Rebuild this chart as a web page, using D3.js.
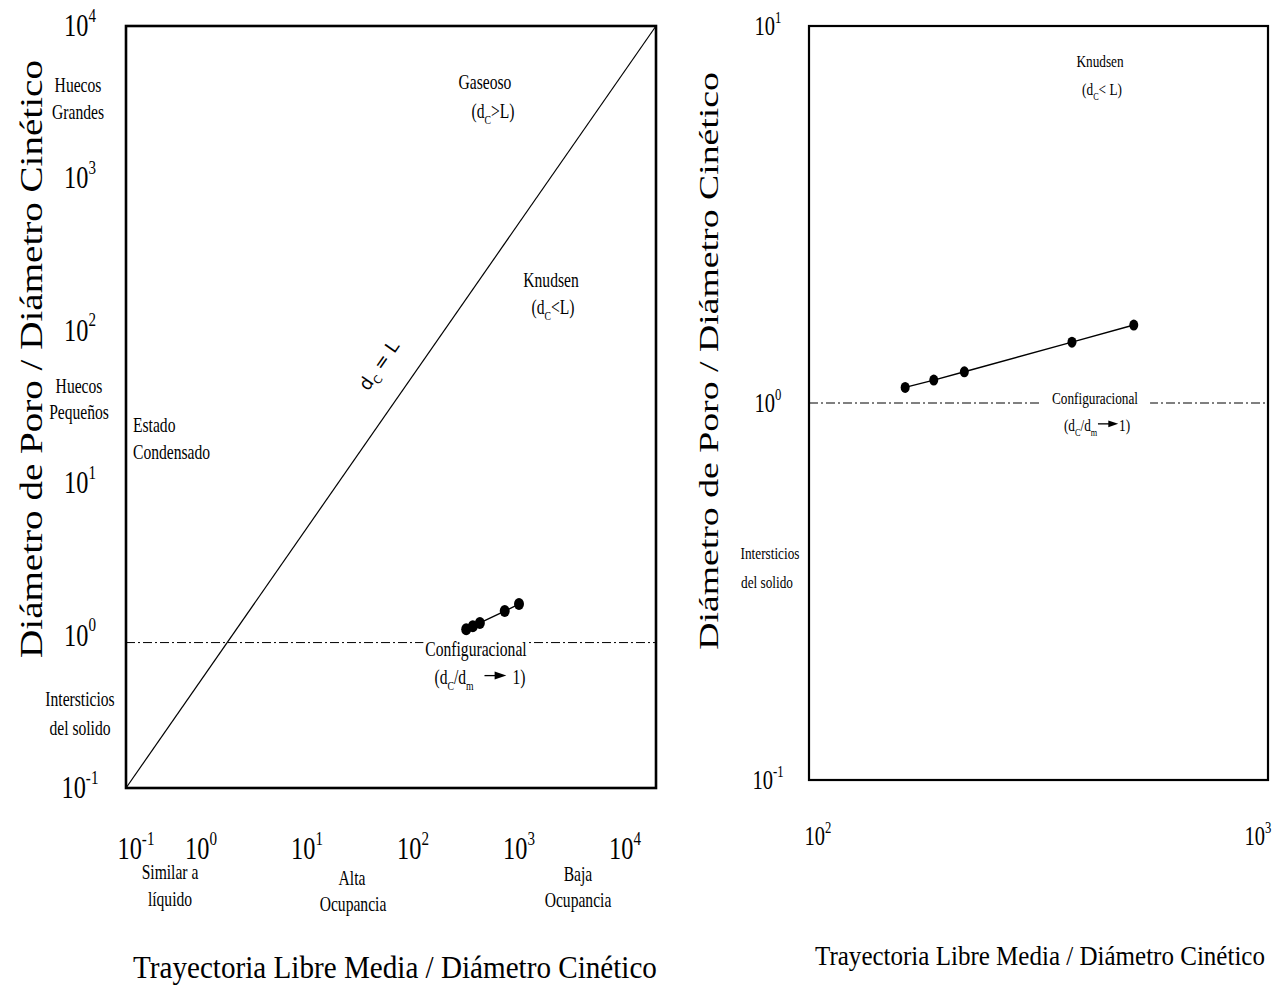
<!DOCTYPE html>
<html>
<head>
<meta charset="utf-8">
<script src="https://cdn.jsdelivr.net/npm/d3@7"></script>
<style>
  body { margin: 0; background: #fff; }
  text { font-family: "Liberation Serif", "Times New Roman", serif; fill: #000; }
</style>
</head>
<body>
<svg id="chart" width="1287" height="988"></svg>
<script>
// values
var meanPath = [162, 187, 218, 374, 510];        // trayectoria libre media / diametro cinetico
var poreRatio = [1.10, 1.15, 1.21, 1.45, 1.61];  // diametro de poro / diametro cinetico
var equalLine = [0.1, 10000];                    // d_C = L
var leftConfigLimit = 0.9;
var rightConfigLimit = 1.0;
var leftExponents = [-1, 0, 1, 2, 3, 4];
var rightXExponents = [2, 3];
var rightYExponents = [-1, 0, 1];

var yTitle = "Diámetro de Poro / Diámetro Cinético";
var xTitle = "Trayectoria Libre Media / Diámetro Cinético";

var SX = 0.78; // the figure's lettering is narrow

var svg = d3.select("#chart");

// scales
var xL = d3.scaleLog().domain([0.1, 1e4]).range([126, 656]);
var yL = d3.scaleLog().domain([0.1, 1e4]).range([788, 26]);
var xLabelL = d3.scaleLog().domain([0.1, 1, 1e4]).range([136, 201, 625]);
var xR = d3.scaleLog().domain([100, 1000]).range([809, 1268]);
var yR = d3.scaleLog().domain([0.1, 10]).range([780, 26]);
var xLabelR = d3.scaleLog().domain([100, 1000]).range([818, 1258]);

var pts = d3.zip(meanPath, poreRatio);

// writes parts like [["(d"],["C","sub"],[">L)"]] into a text element
function fillParts(t, size, parts) {
    var shift = {sub: 0.28, sup: -0.45, base: 0};
    var prev = 0;
    parts.forEach(function(p) {
        var lv = p[1] || "base";
        var s = t.append("tspan").text(p[0]);
        var off = shift[lv] * size;
        if (off !== prev) s.attr("dy", off - prev);
        if (lv !== "base") s.style("font-size", (size * 0.62) + "px");
        prev = off;
    });
}

function richText(parent, x, y, size, parts, opts) {
    opts = opts || {};
    var sx = opts.sx || SX;
    var g = parent.append("g")
        .attr("transform", "translate(" + x + "," + y + ") scale(" + sx + ",1)");
    var t = g.append("text")
        .attr("text-anchor", opts.anchor || "middle")
        .style("font-size", size + "px");
    fillParts(t, size, parts);
    if (opts.pad !== undefined) {
        var b = t.node().getBBox();
        g.insert("rect", "text")
            .attr("x", b.x - opts.pad / sx)
            .attr("y", b.y)
            .attr("width", b.width + 2 * opts.pad / sx)
            .attr("height", b.height)
            .attr("fill", "#fff");
    }
    return g;
}

function power(parent, x, y, e, size, sx) {
    return richText(parent, x, y, size, [["10"], [String(e), "sup"]], {sx: sx || 0.76});
}

// title squeezed to a given length
function title(parent, x, y, size, len, rot, str) {
    var g = parent.append("g");
    var t = g.append("text").attr("text-anchor", "middle").style("font-size", size + "px").text(str);
    var k = len / t.node().getComputedTextLength();
    g.attr("transform", "translate(" + x + "," + y + ") rotate(" + rot + ") scale(" + k + ",1)");
}

function arrowLabel(parent, cx, y, size, gapA, len, gapB) {
    var g = parent.append("g")
        .attr("transform", "translate(" + cx + "," + y + ") scale(" + SX + ",1)");
    var inner = g.append("g");
    var t1 = inner.append("text").style("font-size", size + "px");
    fillParts(t1, size, [["(d"], ["C", "sub"], ["/d"], ["m", "sub"]]);
    var w1 = t1.node().getComputedTextLength();
    var a0 = w1 + gapA, a1 = a0 + len, ay = -size * 0.42;
    inner.append("line")
        .attr("x1", a0).attr("x2", a1 - size * 0.5)
        .attr("y1", ay).attr("y2", ay)
        .attr("stroke", "#000").attr("stroke-width", 1.3);
    inner.append("path")
        .attr("d", "M" + (a1 - size * 0.75) + "," + (ay - size * 0.2) + "L" + a1 + "," + ay +
              "L" + (a1 - size * 0.75) + "," + (ay + size * 0.2) + "Z")
        .attr("fill", "#000");
    var t2 = inner.append("text").attr("x", a1 + gapB).style("font-size", size + "px").text("1)");
    var total = a1 + gapB + t2.node().getComputedTextLength();
    inner.attr("transform", "translate(" + (-total / 2) + ",0)");
}

// ---------------- left chart ----------------
var left = svg.append("g");

// configurational limit
left.append("line")
    .attr("x1", xL.range()[0]).attr("x2", xL.range()[1])
    .attr("y1", yL(leftConfigLimit)).attr("y2", yL(leftConfigLimit))
    .attr("stroke", "#000").attr("stroke-width", 1)
    .attr("stroke-dasharray", "9,3,2,3");

// d_C = L
left.append("path")
    .datum(equalLine)
    .attr("fill", "none").attr("stroke", "#000").attr("stroke-width", 1.2)
    .attr("d", d3.line().x(function(d) { return xL(d); }).y(function(d) { return yL(d); }));

// data
left.append("path")
    .datum(pts)
    .attr("fill", "none").attr("stroke", "#000").attr("stroke-width", 1.4)
    .attr("d", d3.line().x(function(d) { return xL(d[0]); }).y(function(d) { return yL(d[1]); }));
left.selectAll(".ptL").data(pts).enter().append("ellipse")
    .attr("class", "ptL")
    .attr("cx", function(d) { return xL(d[0]); })
    .attr("cy", function(d) { return yL(d[1]); })
    .attr("rx", 5).attr("ry", 6).attr("fill", "#000");

// frame
left.append("rect")
    .attr("x", xL.range()[0]).attr("y", yL.range()[1])
    .attr("width", xL.range()[1] - xL.range()[0])
    .attr("height", yL.range()[0] - yL.range()[1])
    .attr("fill", "none").attr("stroke", "#000").attr("stroke-width", 2.6);

// tick labels
leftExponents.forEach(function(e) {
    power(left, 80, yL(Math.pow(10, e)) + 10, e, 32);
    power(left, xLabelL(Math.pow(10, e)), 859, e, 32);
});

// region labels
var LS = 20;
richText(left, 78, 92, LS, [["Huecos"]]);
richText(left, 78, 119, LS, [["Grandes"]]);
richText(left, 79, 393, LS, [["Huecos"]]);
richText(left, 79, 419, LS, [["Pequeños"]]);
richText(left, 133, 432, LS, [["Estado"]], {anchor: "start"});
richText(left, 133, 459, LS, [["Condensado"]], {anchor: "start"});
richText(left, 80, 706, LS, [["Intersticios"]]);
richText(left, 80, 735, LS, [["del solido"]]);
richText(left, 485, 89, LS, [["Gaseoso"]]);
richText(left, 493, 118, LS, [["(d"], ["C", "sub"], [">L)"]]);
richText(left, 551, 287, LS, [["Knudsen"]]);
richText(left, 553, 314, LS, [["(d"], ["C", "sub"], ["<L)"]]);
richText(left, 476, 656, LS, [["Configuracional"]], {pad: 2});
arrowLabel(left, 480, 684, LS, 14, 28, 8);
richText(left, 170, 879, LS, [["Similar a"]]);
richText(left, 170, 906, LS, [["líquido"]]);
richText(left, 352, 885, LS, [["Alta"]]);
richText(left, 353, 911, LS, [["Ocupancia"]]);
richText(left, 578, 881, LS, [["Baja"]]);
richText(left, 578, 907, LS, [["Ocupancia"]]);

left.append("g")
    .attr("transform", "translate(384,369) rotate(-55)")
    .append("text")
    .attr("text-anchor", "middle")
    .style("font-family", "'DejaVu Sans', sans-serif")
    .style("font-size", "18px")
    .call(function(t) { fillParts(t, 18, [["d"], ["C", "sub"], [" = L"]]); });

// titles
title(left, 42, 359, 31, 598, -90, yTitle);
title(left, 395, 978, 32, 524, 0, xTitle);

// ---------------- right chart ----------------
var right = svg.append("g");

right.append("line")
    .attr("x1", xR.range()[0]).attr("x2", xR.range()[1])
    .attr("y1", yR(rightConfigLimit)).attr("y2", yR(rightConfigLimit))
    .attr("stroke", "#000").attr("stroke-width", 1)
    .attr("stroke-dasharray", "9,3,2,3");

right.append("path")
    .datum(pts)
    .attr("fill", "none").attr("stroke", "#000").attr("stroke-width", 1.4)
    .attr("d", d3.line().x(function(d) { return xR(d[0]); }).y(function(d) { return yR(d[1]); }));
right.selectAll(".ptR").data(pts).enter().append("ellipse")
    .attr("class", "ptR")
    .attr("cx", function(d) { return xR(d[0]); })
    .attr("cy", function(d) { return yR(d[1]); })
    .attr("rx", 4.5).attr("ry", 5.5).attr("fill", "#000");

right.append("rect")
    .attr("x", xR.range()[0]).attr("y", yR.range()[1])
    .attr("width", xR.range()[1] - xR.range()[0])
    .attr("height", yR.range()[0] - yR.range()[1])
    .attr("fill", "none").attr("stroke", "#000").attr("stroke-width", 2.2);

rightYExponents.forEach(function(e) {
    power(right, 768, yR(Math.pow(10, e)) + 9, e, 27);
});
rightXExponents.forEach(function(e) {
    power(right, xLabelR(Math.pow(10, e)), 845, e, 27);
});

var RS = 17;
richText(right, 1100, 67, RS, [["Knudsen"]]);
richText(right, 1102, 95, RS, [["(d"], ["C", "sub"], ["< L)"]]);
richText(right, 1095, 404, RS, [["Configuracional"]], {pad: 12});
arrowLabel(right, 1097, 431, RS, 1, 26, 1);
richText(right, 770, 559, RS, [["Intersticios"]]);
richText(right, 767, 588, RS, [["del solido"]]);

title(right, 718, 361, 28, 578, -90, yTitle);
title(right, 1040, 965, 28, 450, 0, xTitle);
</script>
</body>
</html>
